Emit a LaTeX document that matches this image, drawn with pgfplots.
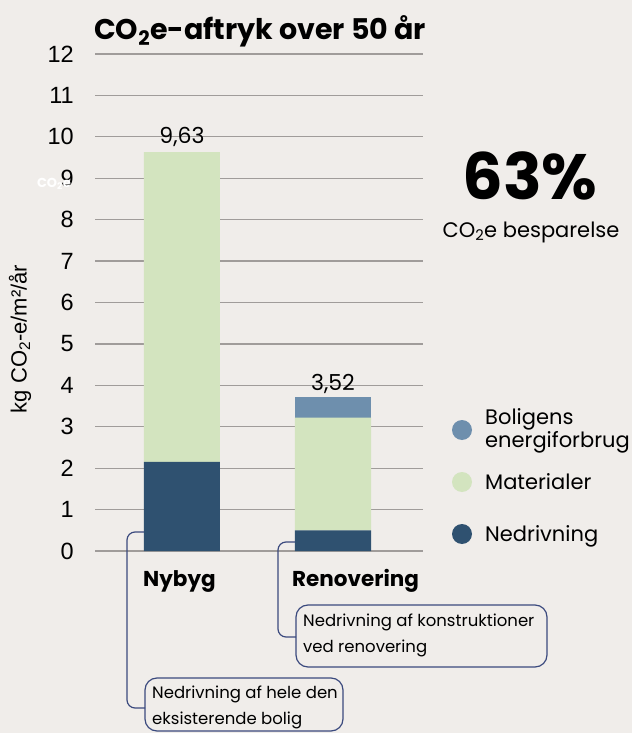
\documentclass[border=0pt]{standalone}
\usepackage{pgfplots}
\pgfplotsset{compat=1.18}
\usepackage{fontspec}
\setmainfont{Poppins}
\newfontfamily\lib{Liberation Sans}
\definecolor{bg}{HTML}{F0EDEA}
\definecolor{energy}{HTML}{6E8FAD}
\definecolor{mat}{HTML}{D3E4BF}
\definecolor{ned}{HTML}{2F5170}
\definecolor{gridc}{HTML}{A09C9A}
\definecolor{boxc}{HTML}{3B4A7E}
\newcommand{\sub}[1]{\textsubscript{#1}}
\newcommand{\fs}[2]{\fontsize{#1bp}{#2bp}\selectfont}
\begin{document}
\begin{tikzpicture}
\fill[bg] (0,0) rectangle (632bp,-733bp);
\useasboundingbox (0,0) rectangle (632bp,-733bp);
\begin{axis}[
  at={(95bp,-551bp)}, anchor=south west,
  scale only axis, width=328bp, height=497bp,
  xmin=-0.576, xmax=1.596, ymin=0, ymax=12,
  ytick={0,...,12}, xtick=\empty,
  axis line style={draw=none},
  major tick length=0pt,
  ymajorgrids, grid style={gridc, line width=1.2bp},
  ybar stacked, bar width=76bp,
  yticklabel style={font=\lib\fs{23.5}{28}, anchor=east, inner sep=0pt, xshift=-21bp},
  /pgf/number format/assume math mode=true,
  clip=false,
]
\addplot[fill=ned, draw=none] coordinates {(0,2.15) (1,0.5)};
\addplot[fill=mat, draw=none] coordinates {(0,7.48) (1,2.72)};
\addplot[fill=energy, draw=none] coordinates {(0,0) (1,0.5)};
\node[anchor=base, inner sep=0pt, yshift=9bp, font=\fs{22}{26}] at (axis cs:0,9.63) {9,63};
\node[anchor=base, inner sep=0pt, yshift=6bp, font=\fs{22}{26}] at (axis cs:1,3.72) {3,52};
\end{axis}
\begin{scope}[x=1bp, y=-1bp]
% category labels
\node[anchor=base west, inner sep=0pt, font=\fs{21.5}{26}\bfseries] at (143,586) {Nybyg};
\node[anchor=base west, inner sep=0pt, font=\fs{21.5}{26}\bfseries] at (292,586) {Renovering};
% title
\node[anchor=west, inner sep=0pt, font=\fs{28.5}{32}\bfseries] at (94,31) {CO\sub{2}e-aftryk over 50 år};
% y label
\node[rotate=90, inner sep=0pt, font=\lib\fs{22}{26}] at (20,339) {kg CO\sub{2}-e/m²/år};
\node[inner sep=0pt, font=\fs{13}{15}\bfseries, text=white] at (54,184) {CO\sub{2}e};
% big number
\node[inner sep=0pt, font=\fs{64}{70}\bfseries] at (530,176) {63\%};
\node[inner sep=0pt, font=\fs{21}{24}] at (531,232) {CO\sub{2}e besparelse};
% legend
\fill[energy] (462,430) circle (10);
\fill[mat] (462,482) circle (10);
\fill[ned] (462,534) circle (10);
\node[anchor=west, inner sep=0pt, align=left, font=\fs{21}{21}] at (485,431) {Boligens\\energiforbrug};
\node[anchor=west, inner sep=0pt, font=\fs{21}{22}] at (485,482) {Materialer};
\node[anchor=west, inner sep=0pt, font=\fs{21}{22}] at (485,536) {Nedrivning};
% connectors
\draw[boxc, line width=1.2bp, rounded corners=8bp] (144,532) -- (127,532) -- (127,708) -- (145,708);
\draw[boxc, line width=1.2bp, rounded corners=8bp] (295,542) -- (278,542) -- (278,637) -- (296,637);
% boxes
\draw[boxc, line width=1.2bp, rounded corners=12bp] (296,605) rectangle (547,667);
\draw[boxc, line width=1.2bp, rounded corners=12bp] (145,678) rectangle (343,731);
\node[anchor=west, inner sep=0pt, align=left, font=\fs{16.5}{26}] at (303,635) {Nedrivning af konstruktioner\\ved renovering};
\node[anchor=west, inner sep=0pt, align=left, font=\fs{16.5}{26}] at (152,707) {Nedrivning af hele den\\eksisterende bolig};
\end{scope}
\end{tikzpicture}
\end{document}
